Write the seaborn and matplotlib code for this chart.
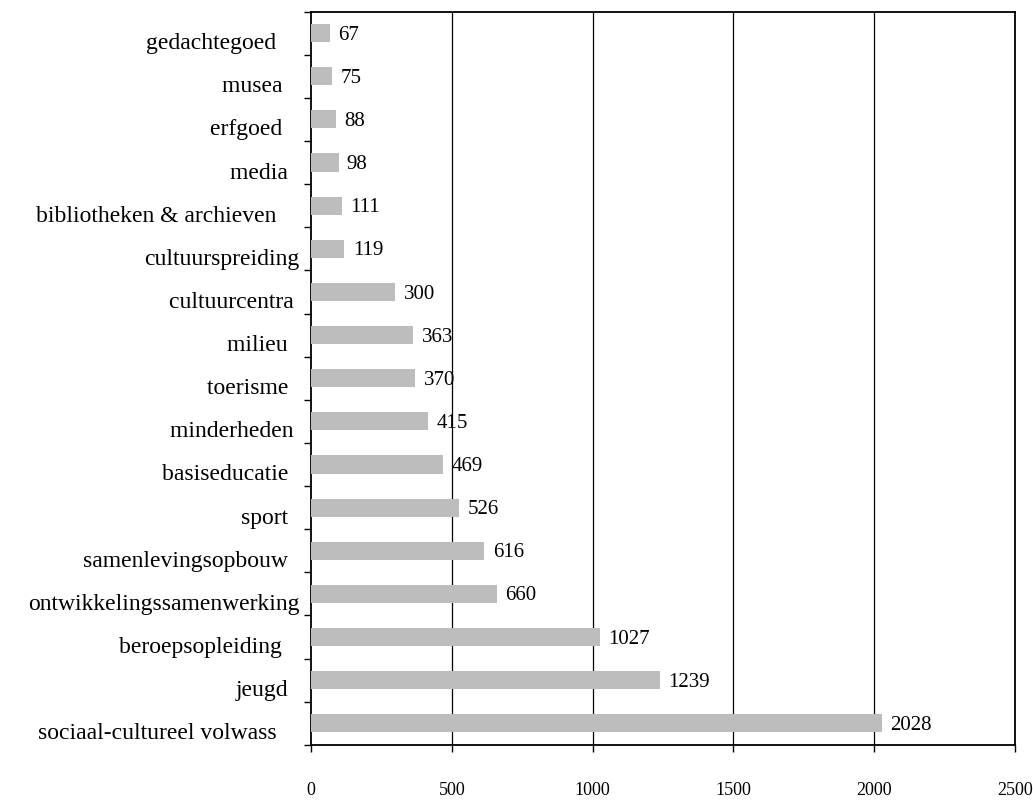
import numpy as np
import pandas as pd
import matplotlib
matplotlib.use("Agg")
import matplotlib.pyplot as plt
import matplotlib.transforms as mtransforms
import seaborn as sns

# sectoren en aantallen (van boven naar onder)
sectoren = ['gedachtegoed    ', 'musea   ', 'erfgoed   ', 'media  ',
            'bibliotheken & archieven    ', 'cultuurspreiding', 'cultuurcentra ',
            'milieu  ', 'toerisme  ', 'minderheden ', 'basiseducatie  ',
            'sport  ', 'samenlevingsopbouw  ', 'ontwikkelingssamenwerking',
            'beroepsopleiding   ', 'jeugd  ', 'sociaal-cultureel volwass    ']
aantallen = [67, 75, 88, 98, 111, 119, 300, 363, 370, 415, 469, 526, 616,
             660, 1027, 1239, 2028]
x_ticks = [0, 500, 1000, 1500, 2000, 2500]


def main():
    sns.set_style("white")
    plt.rcParams['font.family'] = ['Liberation Serif', 'DejaVu Serif']
    plt.rcParams['text.color'] = 'black'
    plt.rcParams['xtick.color'] = 'black'
    plt.rcParams['ytick.color'] = 'black'

    df = pd.DataFrame({'sector': sectoren, 'aantal': aantallen})

    fig = plt.figure(figsize=(10.33, 8), dpi=100)
    ax = fig.add_axes([0.301, 0.069, 0.6816, 0.9165])

    sns.barplot(data=df, y='sector', x='aantal', orient='h', color='#bdbdbd',
                saturation=1, width=0.42, linewidth=0, ax=ax, zorder=3)

    ax.set_xlim(0, 2500)
    ax.set_ylim(len(sectoren) - 0.5, -0.5)
    ax.set_xlabel('')
    ax.set_ylabel('')

    # verticale rasterlijnen
    for v in x_ticks[1:-1]:
        ax.axvline(v, color='black', lw=0.9, zorder=1)

    for s in ax.spines.values():
        s.set_color('black')
        s.set_linewidth(1.3)
        s.set_visible(True)

    ax.set_xticks(x_ticks)
    ax.set_xticklabels([str(t) for t in x_ticks], fontsize=13)
    ax.tick_params(axis='x', direction='out', length=5, width=1,
                   color='black', labelcolor='black', pad=22, bottom=True)

    ax.set_yticks(np.arange(len(sectoren)))
    ax.set_yticklabels(sectoren, fontsize=17)
    ax.tick_params(axis='y', which='major', length=0, pad=8, left=True,
                   labelcolor='black')
    ax.set_yticks(np.arange(len(sectoren) + 1) - 0.5, minor=True)
    ax.tick_params(axis='y', which='minor', direction='out', length=5,
                   width=1, color='black', left=True)

    # labels iets naar beneden schuiven
    offset = mtransforms.ScaledTranslation(0, -8 / 100, fig.dpi_scale_trans)
    for lbl in ax.get_yticklabels():
        lbl.set_transform(lbl.get_transform() + offset)

    for i, v in enumerate(aantallen):
        ax.annotate(str(v), xy=(v, i), xytext=(6, -1.5),
                    textcoords='offset points', va='center', ha='left',
                    fontsize=15, color='black', zorder=4)

    plt.savefig('out.png', dpi=100)


if __name__ == '__main__':
    main()
